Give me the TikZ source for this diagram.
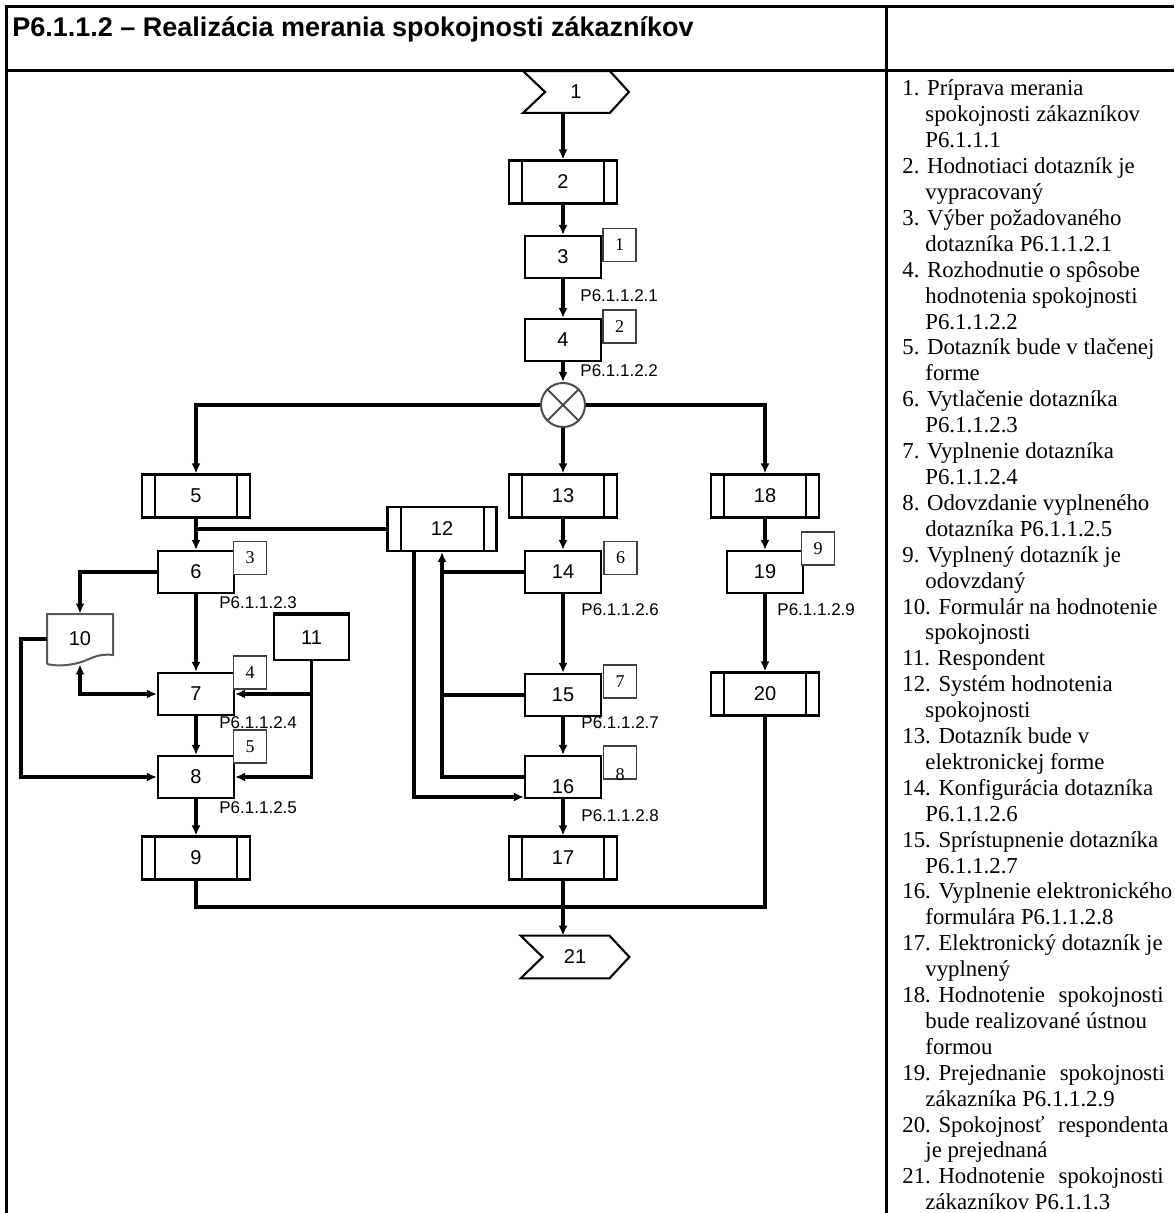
\documentclass[tikz,border=0pt]{standalone}
\usepackage{fontspec}
\setmainfont{Liberation Serif}
\newfontfamily\arial{Liberation Sans}
\usetikzlibrary{arrows.meta}
\begin{document}
\begin{tikzpicture}[x=0.5pt,y=-0.5pt,
  conn/.style={line width=1.55pt,-{Latex[length=5pt,width=4.5pt]}},
  biconn/.style={line width=1.55pt,{Latex[length=5pt,width=4.5pt]}-{Latex[length=5pt,width=4.5pt]}},
  wire/.style={line width=1.55pt},
  frameline/.style={line width=1.5pt},
  pbox/.style={draw,line width=1.05pt,minimum width=38pt,minimum height=21pt,inner sep=0pt,fill=white,font=\arial\fontsize{10}{12}\selectfont},
  dbox/.style={pbox,minimum width=54pt,minimum height=21.5pt,
    path picture={
      \draw[line width=1pt] ([xshift=6.5pt]path picture bounding box.north west) -- ([xshift=6.5pt]path picture bounding box.south west);
      \draw[line width=1pt] ([xshift=-6.5pt]path picture bounding box.north east) -- ([xshift=-6.5pt]path picture bounding box.south east);}},
  abox/.style={draw=black!75,line width=0.9pt,fill=white,minimum width=16.5pt,minimum height=16.5pt,inner sep=0pt,font=\fontsize{9}{10}\selectfont},
  anum/.style={inner sep=0pt,font=\fontsize{9}{10}\selectfont},
  lab/.style={anchor=base west,inner sep=0pt,font=\arial\fontsize{8.5}{10}\selectfont},
  leg/.style={anchor=base west,inner sep=0pt,font=\fontsize{11.4}{13}\selectfont},
  ghost/.style={inner sep=0pt,font=\arial\fontsize{10}{12}\selectfont},
  chev/.style={line width=1.05pt}
]
\useasboundingbox (0,0) rectangle (1174,1213);

% frame
\draw[frameline] (1174,7) -- (6,7) -- (6,1213);
\draw[frameline] (6,71) -- (1174,71);
\draw[frameline] (886,7) -- (886,1213);

\node[anchor=base west,inner sep=0pt,font=\arial\bfseries\fontsize{13.5}{16}\selectfont] (title) at (12,37)
  {P6.1.1.2 – Realizácia merania spokojnosti zákazníkov};

% chevron 1
\node[ghost,minimum width=52.5pt,minimum height=20.5pt] (n1) at (576,92) {1};
\draw[chev] (n1.north west) -- ([xshift=-9.5pt]n1.north east) -- (n1.east) -- ([xshift=-9.5pt]n1.south east)
  -- (n1.south west) -- ([xshift=11pt]n1.west) -- cycle;

\node[dbox] (n2) at (563,182) {2};
\node[pbox] (n3) at (563,257) {3};
\node[pbox] (n4) at (563,340) {4};
\node[circle,draw=black!70,line width=1pt,minimum size=22pt,inner sep=0pt] (nx) at (563,405) {};
\draw[line width=1pt,black!70] (nx.north west) -- (nx.south east) (nx.north east) -- (nx.south west);

\node[dbox] (n5) at (196,496) {5};
\node[dbox] (n13) at (563,496) {13};
\node[dbox] (n18) at (765,496) {18};
\node[dbox,minimum width=54.5pt,minimum height=22pt] (n12) at (442,529) {12};

\node[pbox] (n6) at (196,572) {6};
\node[pbox] (n14) at (563,572) {14};
\node[pbox] (n19) at (765,572) {19};

\node[ghost,minimum width=33pt,minimum height=25pt] (n10) at (80,639) {10};
\draw[draw=black!65,line width=1pt] (47,664) -- (47,614) -- (113,614) -- (113,655)
  .. controls (96,653) and (90,660) .. (78,663) .. controls (66,666) and (55,666) .. (47,664);

\node[pbox,minimum width=37.5pt,minimum height=22.5pt] (n11) at (311.5,637.5) {11};
\draw[line width=2pt] (n11.north west) -- (n11.north east);

\node[pbox] (n7) at (196,694) {7};
\node[pbox] (n15) at (563,695) {15};
\node[dbox] (n20) at (765,694) {20};

\node[pbox] (n8) at (196,777) {8};
\node[pbox] (n16) at (563,777) {};
\node[ghost] (t16) at ([yshift=-5pt]n16.center) {16};

\node[dbox] (n9) at (196,858) {9};
\node[dbox] (n17) at (563,858) {17};

% chevron 21
\node[ghost,minimum width=54pt,minimum height=21pt] (n21) at (575,957) {21};
\draw[chev] (n21.north west) -- ([xshift=-10pt]n21.north east) -- (n21.east) -- ([xshift=-10pt]n21.south east)
  -- (n21.south west) -- ([xshift=11pt]n21.west) -- cycle;

% annotation boxes
\node[abox] (a1) at (619.5,245) {1};
\node[abox] (a2) at (619.5,326.5) {2};
\node[abox] (a3) at (250,558) {3};
\node[abox] (a4) at (250,672.5) {4};
\node[abox] (a5) at (250,746.5) {5};
\node[abox] (a6) at (620.5,558) {6};
\node[abox] (a7) at (620,681.5) {7};
\node[abox] (a8) at (620,762.5) {};
\node[anum] (t8) at ([yshift=-6pt]a8.center) {8};
\node[abox] (a9) at (818,548.5) {9};

% labels
\node[lab] (l1) at (580,302) {P6.1.1.2.1};
\node[lab] (l2) at (580,377) {P6.1.1.2.2};
\node[lab] (l3) at (219,608) {P6.1.1.2.3};
\node[lab] (l4) at (219,728) {P6.1.1.2.4};
\node[lab] (l5) at (219,813) {P6.1.1.2.5};
\node[lab] (l6) at (581,615) {P6.1.1.2.6};
\node[lab] (l7) at (581,728) {P6.1.1.2.7};
\node[lab] (l8) at (581,821) {P6.1.1.2.8};
\node[lab] (l9) at (777,615) {P6.1.1.2.9};

% connectors
\draw[conn] (n1.south -| n2.north) -- (n2.north);
\draw[conn] (n2) -- (n3);
\draw[conn] (n3) -- (n4);
\draw[conn] (n4) -- (nx);
\draw[conn] (nx.west) -| (n5.north);
\draw[conn] (nx) -- (n13);
\draw[conn] (nx.east) -| (n18.north);
\draw[conn] (n5) -- (n6);
\draw[wire] (n12.west) -- (n12.west -| n5.south);
\draw[conn] (n6.west) -| (n10.north);
\draw[conn] (n6) -- (n7);
\draw[biconn] (n10.south) |- (n7.west);
\coordinate (k10) at (21,0);
\draw[conn] (n10.west) -- (n10.west -| k10) |- (n8.west);
\draw[conn] (n11.south) |- (n8.east);
\draw[conn] (n11.south |- n7.east) -- (n7.east);
\draw[conn] (n7) -- (n8);
\draw[conn] (n8) -- (n9);
\coordinate (kb) at (0,907);
\draw[wire] (n9.south) |- (n20.south |- kb) -- (n20.south);
\draw[conn] (n17.south) -- (n17.south |- n21.north);
\draw[conn] (n13) -- (n14);
\draw[wire] (n14.west) -- (n14.west -| n12.south);
\draw[wire] (n15.west) -- (n15.west -| n12.south);
\draw[conn] (n16.west) -| (n12.south);
\draw[conn] ([xshift=-14pt]n12.south) |- ([yshift=-10pt]n16.west);
\draw[conn] (n14) -- (n15);
\draw[conn] (n15) -- (n16);
\draw[conn] (n16) -- (n17);
\draw[conn] (n18) -- (n19);
\draw[conn] (n19) -- (n20);

% legend
\foreach \ind/\txt [count=\i from 0] in {
0/{1. Príprava merania},
1/{spokojnosti zákazníkov},
1/{P6.1.1.1},
0/{2. Hodnotiaci dotazník je},
1/{vypracovaný},
0/{3. Výber požadovaného},
1/{dotazníka P6.1.1.2.1},
0/{4. Rozhodnutie o spôsobe},
1/{hodnotenia spokojnosti},
1/{P6.1.1.2.2},
0/{5. Dotazník bude v tlačenej},
1/{forme},
0/{6. Vytlačenie dotazníka},
1/{P6.1.1.2.3},
0/{7. Vyplnenie dotazníka},
1/{P6.1.1.2.4},
0/{8. Odovzdanie vyplneného},
1/{dotazníka P6.1.1.2.5},
0/{9. Vyplnený dotazník je},
1/{odovzdaný},
0/{10. Formulár na hodnotenie},
1/{spokojnosti},
0/{11. Respondent},
0/{12. Systém hodnotenia},
1/{spokojnosti},
0/{13. Dotazník bude v},
1/{elektronickej forme},
0/{14. Konfigurácia dotazníka},
1/{P6.1.1.2.6},
0/{15. Sprístupnenie dotazníka},
1/{P6.1.1.2.7},
0/{16. Vyplnenie elektronického},
1/{formulára P6.1.1.2.8},
0/{17. Elektronický dotazník je},
1/{vyplnený},
0/{18. Hodnotenie\hspace{0.35em} spokojnosti},
1/{bude realizované ústnou},
1/{formou},
0/{19. Prejednanie\hspace{0.35em} spokojnosti},
1/{zákazníka P6.1.1.2.9},
0/{20. Spokojnosť\hspace{0.35em} respondenta},
1/{je prejednaná},
0/{21. Hodnotenie\hspace{0.35em} spokojnosti},
1/{zákazníkov P6.1.1.3}}
  \node[leg] (L\i) at ({902+23*\ind},{96+25.9*\i}) {\txt};
\end{tikzpicture}
\end{document}
